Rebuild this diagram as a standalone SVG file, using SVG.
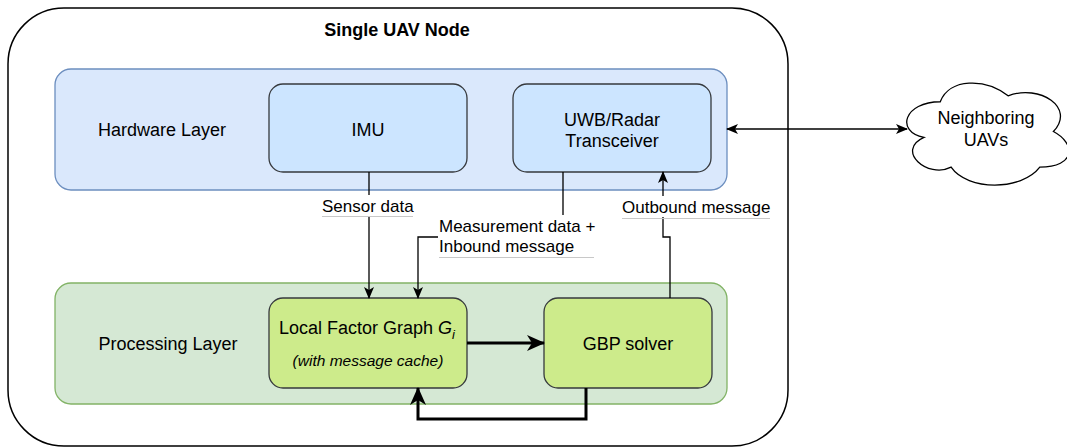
<svg xmlns="http://www.w3.org/2000/svg" width="1067" height="448" viewBox="0 0 1067 448">
<style>
text{font-family:"Liberation Sans",Arial,sans-serif;fill:#000;text-anchor:middle}
.lbl{font-size:18px}
.elbl{font-size:17px;text-anchor:start}
.hw{fill:#dae8fc;stroke:#6c8ebf;stroke-width:1.3}
.pl{fill:#d5e8d4;stroke:#82b366;stroke-width:1.3}
.hwbox{fill:#cce5ff;stroke:#36393d;stroke-width:1.3}
.plbox{fill:#cdeb8b;stroke:#36393d;stroke-width:1.3}
.thin{fill:none;stroke:#000;stroke-width:1.3}
.thick{fill:none;stroke:#000;stroke-width:3}
.ul{stroke:#c8c8c8;stroke-width:1}
</style>
<defs>
<marker id="ah" markerWidth="12" markerHeight="10" refX="11" refY="5" orient="auto" markerUnits="userSpaceOnUse">
<path d="M0,0 L12,5 L0,10 L3,5 Z" fill="#000"/>
</marker>
<marker id="ahs" markerWidth="12" markerHeight="10" refX="1" refY="5" orient="auto" markerUnits="userSpaceOnUse">
<path d="M12,0 L0,5 L12,10 L9,5 Z" fill="#000"/>
</marker>
<marker id="ahb" markerWidth="18" markerHeight="16" refX="17" refY="8" orient="auto" markerUnits="userSpaceOnUse">
<path d="M0,0 L18,8 L0,16 L5,8 Z" fill="#000"/>
</marker>
</defs>

<g id="uav-node">
<rect x="8" y="8" width="780" height="438" rx="56" fill="#fff" stroke="#000" stroke-width="1.5"/>
<text x="397" y="36" style="font-size:18px;font-weight:bold">Single UAV Node</text>
</g>

<g id="hardware-layer">
<rect class="hw" x="55" y="69" width="672" height="121" rx="16"/>
<text class="lbl" x="162" y="136">Hardware Layer</text>
</g>

<g id="processing-layer">
<rect class="pl" x="55" y="283" width="672" height="121" rx="16"/>
<text class="lbl" x="168" y="350">Processing Layer</text>
</g>

<g id="imu">
<rect class="hwbox" x="269" y="84" width="198" height="88" rx="14"/>
<text class="lbl" x="368" y="136">IMU</text>
</g>

<g id="uwb">
<rect class="hwbox" x="513" y="84" width="198" height="88" rx="14"/>
<text class="lbl" x="612" y="126">UWB/Radar</text>
<text class="lbl" x="612" y="147">Transceiver</text>
</g>

<g id="local-factor-graph">
<rect class="plbox" x="269" y="298" width="198" height="90" rx="14"/>
<text class="lbl" x="367" y="334">Local Factor Graph <tspan font-style="italic">G</tspan><tspan font-style="italic" font-size="13" dy="5">i</tspan></text>
<text x="368" y="366" style="font-size:15.5px;font-style:italic">(with message cache)</text>
</g>

<g id="gbp-solver">
<rect class="plbox" x="544" y="298" width="168" height="90" rx="14"/>
<text class="lbl" x="628" y="350">GBP solver</text>
</g>

<g id="neighboring-uavs">
<path d="M940.25,101.75 C904.05,101.75 895,131.5 923.96,137.45 C895,150.54 927.58,179.1 951.11,167.2 C967.4,191 1021.7,191 1039.8,167.2 C1076,167.2 1076,143.4 1053.4,131.5 C1076,107.7 1039.8,83.9 1008.1,95.8 C985.5,77.95 949.3,77.95 940.25,101.75 Z" fill="#fff" stroke="#000" stroke-width="1.3"/>
<text class="lbl" x="986" y="124">Neighboring</text>
<text class="lbl" x="986" y="146">UAVs</text>
</g>

<g id="connectors">
<path class="thin" d="M369,172 V298" marker-end="url(#ah)"/>
<path class="thin" d="M563,172 V237 H418 V298" marker-end="url(#ah)"/>
<path class="thin" d="M670,298 V237 H663 V172" marker-end="url(#ah)"/>
<path class="thin" d="M727,129 H907" marker-start="url(#ahs)" marker-end="url(#ah)"/>
<path class="thick" d="M467,343 H544" marker-end="url(#ahb)"/>
<path class="thick" d="M586,388 V419 H418 V388" marker-end="url(#ahb)"/>

<rect x="321" y="195" width="93" height="21" fill="#fff"/>
<text class="elbl" x="322" y="212">Sensor data</text>
<line class="ul" x1="322" y1="216.5" x2="413" y2="216.5"/>

<rect x="438" y="215" width="157" height="42" fill="#fff"/>
<text class="elbl" x="439" y="232">Measurement data +</text>
<text class="elbl" x="439" y="252">Inbound message</text>
<line class="ul" x1="439" y1="257.5" x2="594" y2="257.5"/>

<rect x="621" y="196" width="150" height="21" fill="#fff"/>
<text class="elbl" x="622" y="213">Outbound message</text>
<line class="ul" x1="622" y1="218.5" x2="770" y2="218.5"/>
</g>
</svg>
